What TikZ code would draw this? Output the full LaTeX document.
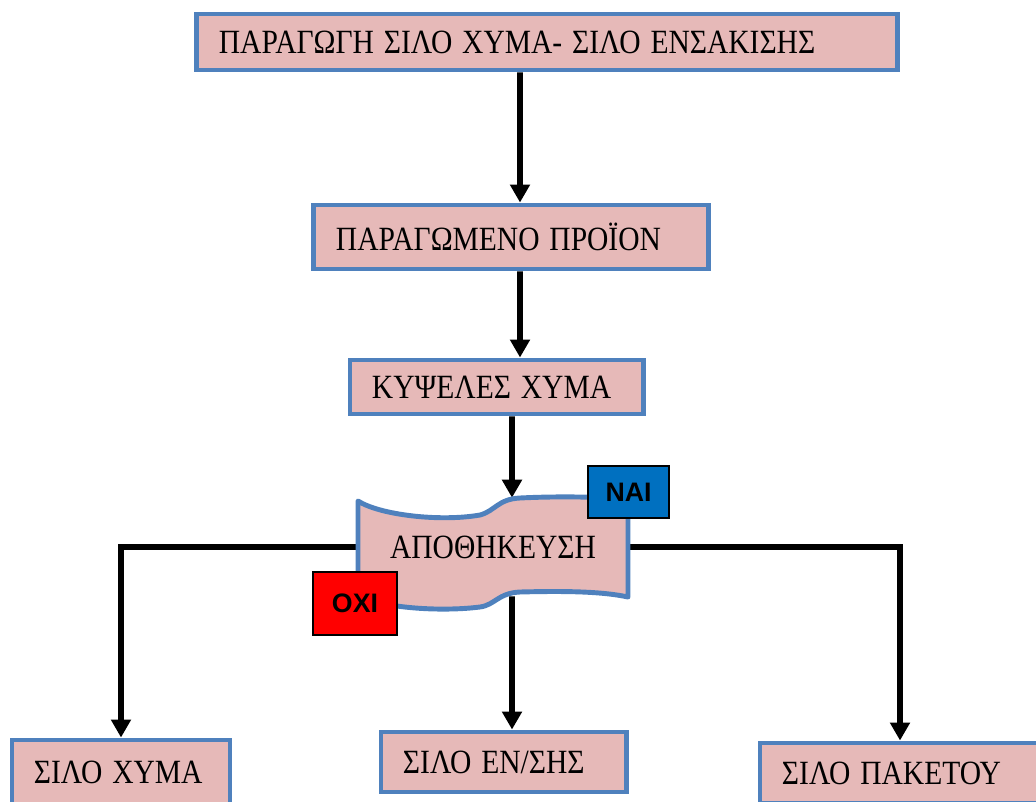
\documentclass[tikz,border=0pt]{standalone}
\usepackage{fontspec}
\setmainfont{Liberation Serif}
\newfontfamily\tagfont{Liberation Sans}
\usepackage{tikz}
\usetikzlibrary{arrows.meta, backgrounds, calc}
\definecolor{boxline}{HTML}{4F81BD}
\definecolor{boxfill}{HTML}{E6B9B8}
\definecolor{yesblue}{HTML}{0070C0}
\definecolor{nored}{HTML}{FF0000}
\newcommand{\tall}[1]{\scalebox{1}[1.15]{#1}}
\tikzstyle{silobox} = [rectangle, draw=boxline, fill=boxfill, line width=3.5pt, inner xsep=0.55cm, inner ysep=0pt, align=left, font=\fontsize{21}{25}\selectfont]
\tikzstyle{answer} = [rectangle, draw=black, line width=1pt, font=\tagfont\bfseries\fontsize{19}{22}\selectfont]
\tikzstyle{flowarrow} = [line width=4pt, ->, >={Triangle[length=0.45cm,width=0.48cm]}]

\begin{document}
\begin{tikzpicture}[x=0.025cm, y=-0.025cm]
    \useasboundingbox (0,0) rectangle (1036,801);

    % Παραγωγή
    \node (top) [silobox, text width=16.4cm, minimum height=1.4cm] at (547,42) {\tall{ΠΑΡΑΓΩΓΗ ΣΙΛΟ ΧΥΜΑ- ΣΙΛΟ ΕΝΣΑΚΙΣΗΣ}};
    \node (prod) [silobox, text width=8.75cm, minimum height=1.6cm] at (511,237) {\tall{ΠΑΡΑΓΩΜΕΝΟ ΠΡΟΪΟΝ}};
    \node (cells) [silobox, text width=6.225cm, minimum height=1.35cm] at (496.5,387) {\tall{ΚΥΨΕΛΕΣ ΧΥΜΑ}};

    % Αποθήκευση
    \node (store) [minimum width=6.75cm, minimum height=2.45cm, font=\fontsize{21}{25}\selectfont] at (493,547) {\tall{ΑΠΟΘΗΚΕΥΣΗ}};

    % Σιλό
    \node (silo1) [silobox, text width=4.35cm, minimum height=1.6cm] at (121,772) {\tall{ΣΙΛΟ ΧΥΜΑ}};
    \node (silo2) [silobox, text width=5.025cm, minimum height=1.5cm] at (503.5,762) {\tall{ΣΙΛΟ ΕΝ/ΣΗΣ}};
    \node (silo3) [silobox, text width=5.9cm, minimum height=1.5cm] at (900,773) {\tall{ΣΙΛΟ ΠΑΚΕΤΟΥ}};

    % Βέλη και ταινία
    \begin{scope}[on background layer]
        \draw [flowarrow] ([xshift=-0.675cm]top.south) -- ([xshift=0.225cm]prod.north);
        \draw [flowarrow] ([xshift=0.225cm]prod.south) -- ([xshift=0.5875cm]cells.north);
        \draw [flowarrow] ([xshift=0.3875cm]cells.south) -- ([xshift=0.475cm]store.north);
        \draw [flowarrow] (store.west) -| (silo1.north);
        \draw [flowarrow] (store.east) -| (silo3.north);
        \draw [flowarrow] ([xshift=0.475cm]store.south) -- ([xshift=0.2125cm]silo2.north);
        \draw [shift={(store.center)}, draw=boxline, fill=boxfill, line width=3.5pt, line join=round]
            (-135,-46) .. controls (-113,-32) and (-53,-25) .. (-13,-32)
            .. controls (2,-36) and (5,-48) .. (27,-49)
            .. controls (67,-51) and (107,-50) .. (135,-48)
            -- (135,50)
            .. controls (107,44) and (67,44) .. (27,45)
            .. controls (5,46) and (2,58) .. (-13,60)
            .. controls (-53,65) and (-113,61) .. (-135,48) -- cycle;
    \end{scope}

    % ΝΑΙ / ΟΧΙ
    \node (yes) [answer, fill=yesblue, minimum width=2.025cm, minimum height=1.3cm] at (628.5,492) {ΝΑΙ};
    \node (no) [answer, fill=nored, minimum width=2.1cm, minimum height=1.575cm] at (355,603.5) {ΟΧΙ};
\end{tikzpicture}
\end{document}
